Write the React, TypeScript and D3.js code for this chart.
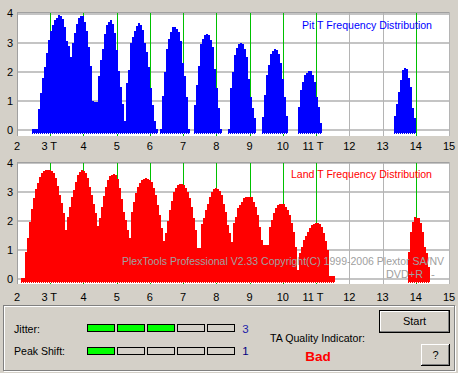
import React from 'react';
import * as d3 from 'd3';

const tTicks = [2, 3, 4, 5, 6, 7, 8, 9, 10, 11, 12, 13, 14, 15];
const tLabels = ["2", "3 T", "4", "5", "6", "7", "8", "9", "10", "11 T", "12", "13", "14", "15"];
const markerTs = [3, 4, 5, 6, 7, 8, 9, 10, 11, 14];
const yTicks = [0, 1, 2, 3, 4];
const BIN = 0.0602;

// Pit T histogram segments (start T, bin values)
const pitStarts = [2.451, 6.303, 7.327, 8.35, 9.373, 10.456, 13.345];
const pit3to6 = [0.05, 0.05, 0.05, 0.73, 1.26, 1.78, 2.18, 2.66, 3.09, 3.41, 3.61, 3.76, 3.86, 3.94, 3.93, 3.81, 3.55, 3.04, 2.9, 2.52,
  2.98, 3.34, 3.63, 3.84, 3.93, 3.9, 3.7, 3.4, 2.86, 2.2, 1.0, 0.95, 0.95, 1.86, 2.41, 2.77, 3.29, 3.61, 3.71, 3.76,
  3.64, 3.32, 2.75, 2.04, 1.49, 0.89, 0.32, 1.6, 2.06, 2.98, 3.21, 3.41, 3.57, 3.67, 3.62, 3.44, 2.98, 2.69, 2.18, 1.43,
  0.86, 0.3, 0.03];
const pit7 = [0.03, 1.17, 2.0, 2.77, 3.12, 3.38, 3.52, 3.55, 3.48, 3.36, 3.07, 2.31, 1.86, 1.12, 0.03];
const pit8 = [0.86, 1.55, 2.2, 2.95, 3.12, 3.26, 3.3, 3.26, 3.1, 2.85, 2.1, 1.45, 0.75, 0.03];
const pit9 = [0.03, 1.43, 2.0, 2.58, 2.83, 2.95, 3.0, 2.95, 2.77, 2.5, 1.75, 1.12, 0.75, 0.4];
const pit10 = [0.45, 1.2, 1.89, 2.23, 2.6, 2.7, 2.77, 2.75, 2.61, 2.31, 1.75, 1.12, 0.48];
const pit11 = [0.8, 1.37, 1.66, 1.89, 1.97, 2.03, 2.01, 1.89, 1.66, 1.15, 0.8, 0.23];
const pit14 = [0.48, 0.89, 1.32, 1.72, 2.06, 2.12, 2.09, 1.78, 1.49, 0.75, 0.4];
const pitSegs = [pit3to6, pit7, pit8, pit9, pit10, pit11, pit14];

// Land T histogram segments
const landStarts = [2.12, 13.766];
const land3to11 = [0.03, 0.03, 0.94, 1.41, 1.98, 2.42, 2.81, 3.1, 3.33, 3.54, 3.66, 3.74, 3.77, 3.78, 3.78, 3.74, 3.66, 3.5, 3.22, 2.91,
  2.62, 2.27, 1.7, 2.16, 2.5, 2.85, 3.08, 3.37, 3.6, 3.71, 3.77, 3.74, 3.66, 3.48, 3.19, 2.91, 2.6, 2.27, 1.83, 2.1,
  2.5, 2.87, 3.19, 3.43, 3.56, 3.6, 3.62, 3.58, 3.45, 3.15, 2.75, 2.3, 2.05, 1.7, 1.41, 2.33, 2.67, 2.97, 3.19, 3.33,
  3.43, 3.47, 3.48, 3.47, 3.43, 3.35, 3.15, 2.9, 2.55, 2.2, 1.75, 1.3, 1.6, 2.0, 2.4, 2.7, 3.0, 3.15, 3.25, 3.28,
  3.28, 3.25, 3.15, 3.0, 2.8, 2.5, 2.1, 1.7, 1.06, 1.06, 1.9, 2.1, 2.4, 2.6, 2.85, 3.0, 3.1, 3.14, 3.12, 3.05,
  2.9, 2.6, 2.3, 1.85, 1.6, 1.29, 1.93, 2.16, 2.45, 2.55, 2.67, 2.79, 2.83, 2.85, 2.85, 2.83, 2.67, 2.5, 2.21, 1.8,
  1.35, 1.18, 1.18, 1.18, 1.81, 2.04, 2.27, 2.45, 2.55, 2.6, 2.6, 2.58, 2.5, 2.4, 2.2, 1.95, 1.64, 1.12, 0.31, 0.89,
  1.1, 1.35, 1.5, 1.64, 1.75, 1.85, 1.9, 1.93, 1.93, 1.9, 1.8, 1.6, 1.3, 1.0, 0.1, 0.1, 0.1];
const land14 = [0.94, 1.64, 1.98, 2.13, 2.12, 2.1, 1.95, 1.64, 1.12, 0.9, 0.4];
const landSegs = [land3to11, land14];

const jitterLevel = 3;
const peakShiftLevel = 1;
const levelCount = 5;

const FONT = '"Liberation Sans", Arial, sans-serif';
const BG = '#D4D0C8';

const xScale = d3.scaleLinear().domain([2, 15]).range([17, 449]);

function Histogram({ top, bottom, y0, y4, starts, segs, color }: any) {
  const y = d3.scaleLinear().domain([0, 4]).range([y0, y4]);
  const left = xScale(2), right = xScale(15);
  const base = Math.round(y(0)) + 4;
  const area = d3.area<[number, number]>()
    .x(d => Math.round(xScale(d[0])))
    .y0(base)
    .y1(d => Math.round(y(d[1])))
    .curve(d3.curveStepAfter);
  const paths: any[] = [];
  const notches: any[] = [];
  segs.forEach((vals: number[], si: number) => {
    const pts: [number, number][] = vals.map((v, i) => [starts[si] + i * BIN, v]);
    pts.push([starts[si] + vals.length * BIN, vals[vals.length - 1]]);
    paths.push(<path key={`p${si}`} d={area(pts) || ''} fill={color} />);
    vals.forEach((_, i) => {
      const xb = Math.round(xScale(starts[si] + (i + 1) * BIN));
      notches.push(<rect key={`n${si}-${i}`} x={xb - 1} y={base - 1} width={1} height={1} fill="#fff" />);
    });
  });
  return (
    <g shapeRendering="crispEdges">
      <rect x={left} y={top} width={right - left} height={bottom - top} fill="#fff" />
      {yTicks.map(v => (
        <rect key={`h${v}`} x={left} width={right - left} y={Math.round(y(v)) - 1} height={2} fill="#C4C4C4" />
      ))}
      {tTicks.filter(t => !markerTs.includes(t)).map(t => (
        <rect key={`v${t}`} x={Math.round(xScale(t))} width={1} y={top} height={bottom - top} fill="#B4B4B4" />
      ))}
      {markerTs.map(t => (
        <rect key={`g${t}`} x={Math.round(xScale(t))} width={1} y={top} height={bottom - top} fill="#00C000" />
      ))}
      {paths}
      {notches}
      <rect x={left} y={top} width={right - left} height={1} fill="#A0A0A0" />
      <rect x={left} y={top} width={1} height={bottom - top} fill="#A0A0A0" />
      {yTicks.map(v => (
        <text key={`yl${v}`} x={10} y={y(v)} dy="0.36em" textAnchor="middle" fontSize={11} fontFamily={FONT} fill="#000">{v}</text>
      ))}
    </g>
  );
}

function XLabels({ cy }: { cy: number }) {
  return (
    <g>
      {tTicks.map((t, i) => (
        <text key={t} x={xScale(t) - (tLabels[i].includes('T') ? (t > 10 ? 3 : 1) : 0)} y={cy} dy="0.36em" textAnchor="middle"
          fontSize={11} fontFamily={FONT} fill="#000">{tLabels[i]}</text>
      ))}
    </g>
  );
}

function LevelBoxes({ y, level }: { y: number; level: number }) {
  return (
    <g shapeRendering="crispEdges">
      {d3.range(levelCount).map(i => (
        <rect key={i} x={87.5 + i * 30} y={y + 0.5} width={27} height={7}
          fill={i < level ? '#00FF00' : BG} stroke="#000" strokeWidth={1} />
      ))}
    </g>
  );
}

function Button({ x, y, w, h, label, isDefault }: any) {
  const o = isDefault ? 1 : 0;
  const x1 = x + o, y1 = y + o, x2 = x + w - o, y2 = y + h - o;
  return (
    <g>
      <g shapeRendering="crispEdges">
        <rect x={x} y={y} width={w} height={h} fill={BG} />
        {isDefault && <rect x={x + 0.5} y={y + 0.5} width={w - 1} height={h - 1} fill="none" stroke="#000" />}
        <line x1={x1} x2={x2 - 1} y1={y1 + 0.5} y2={y1 + 0.5} stroke="#fff" />
        <line x1={x1 + 0.5} x2={x1 + 0.5} y1={y1} y2={y2 - 1} stroke="#fff" />
        <line x1={x1} x2={x2} y1={y2 - 0.5} y2={y2 - 0.5} stroke={isDefault ? '#808080' : '#000'} />
        <line x1={x2 - 0.5} x2={x2 - 0.5} y1={y1} y2={y2} stroke={isDefault ? '#808080' : '#000'} />
        {!isDefault && <line x1={x1 + 1} x2={x2 - 1} y1={y2 - 1.5} y2={y2 - 1.5} stroke="#808080" />}
        {!isDefault && <line x1={x2 - 1.5} x2={x2 - 1.5} y1={y1 + 1} y2={y2 - 1} stroke="#808080" />}
      </g>
      <text x={x + w / 2} y={y + h / 2} dy="0.36em" textAnchor="middle" fontSize={11} fontFamily={FONT} fill="#000">{label}</text>
    </g>
  );
}

export default function App() {
  return (
    <svg width={458} height={373} style={{ position: 'absolute', left: 0, top: 0, display: 'block' }}>
      <rect x={0} y={0} width={458} height={373} fill={BG} />
      <Histogram top={12} bottom={136} y0={130} y4={13.5} starts={pitStarts} segs={pitSegs} color="#0000FF" />
      <text x={302} y={25} dy="0.36em" fontSize={11.5} fontFamily={FONT} fill="#0000FF" textLength={130} lengthAdjust="spacingAndGlyphs">Pit T Frequency Distribution</text>
      <XLabels cy={146} />
      <Histogram top={162} bottom={284} y0={279} y4={163.3} starts={landStarts} segs={landSegs} color="#FF0000" />
      <text x={291} y={174} dy="0.36em" fontSize={11.5} fontFamily={FONT} fill="#FF0000" textLength={141} lengthAdjust="spacingAndGlyphs">Land T Frequency Distribution</text>
      <text x={122} y={261} dy="0.36em" fontSize={11.5} fontFamily={FONT} fill="#A0A0A0" textLength={322} lengthAdjust="spacingAndGlyphs">PlexTools Professional V2.33 Copyright(C) 1999-2006 Plextor SA/NV</text>
      <text x={386} y={273.5} dy="0.36em" fontSize={11.5} fontFamily={FONT} fill="#A0A0A0" textLength={37} lengthAdjust="spacingAndGlyphs">DVD+R</text>
      <text x={431} y={273.5} dy="0.36em" fontSize={11.5} fontFamily={FONT} fill="#A0A0A0">-</text>
      <XLabels cy={297} />

      <g shapeRendering="crispEdges">
        <rect x={4.5} y={306.5} width={451} height={65} fill="none" stroke="#FFFFFF" />
        <rect x={3.5} y={305.5} width={451} height={65} fill="none" stroke="#808080" />
      </g>

      <text x={14} y={329} dy="0.36em" fontSize={11} fontFamily={FONT} fill="#000" textLength={26} lengthAdjust="spacingAndGlyphs">Jitter:</text>
      <text x={14} y={351.5} dy="0.36em" fontSize={11} fontFamily={FONT} fill="#000" textLength={51} lengthAdjust="spacingAndGlyphs">Peak Shift:</text>
      <LevelBoxes y={324} level={jitterLevel} />
      <LevelBoxes y={346.5} level={peakShiftLevel} />
      <text x={245.5} y={328.5} dy="0.36em" textAnchor="middle" fontSize={11.5} fontFamily={FONT} fill="#2020A8">{jitterLevel}</text>
      <text x={245.5} y={350.5} dy="0.36em" textAnchor="middle" fontSize={11.5} fontFamily={FONT} fill="#000080">{peakShiftLevel}</text>

      <text x={270} y={338} dy="0.36em" fontSize={11} fontFamily={FONT} fill="#000" textLength={95} lengthAdjust="spacingAndGlyphs">TA Quality Indicator:</text>
      <text x={318} y={356} dy="0.36em" textAnchor="middle" fontSize={13.5} fontWeight="bold" fontFamily={FONT} fill="#FF0000">Bad</text>

      <Button x={379} y={310} w={71} h={23} label="Start" isDefault={true} />
      <Button x={421} y={344} w={29} h={22} label="?" isDefault={false} />
    </svg>
  );
}
